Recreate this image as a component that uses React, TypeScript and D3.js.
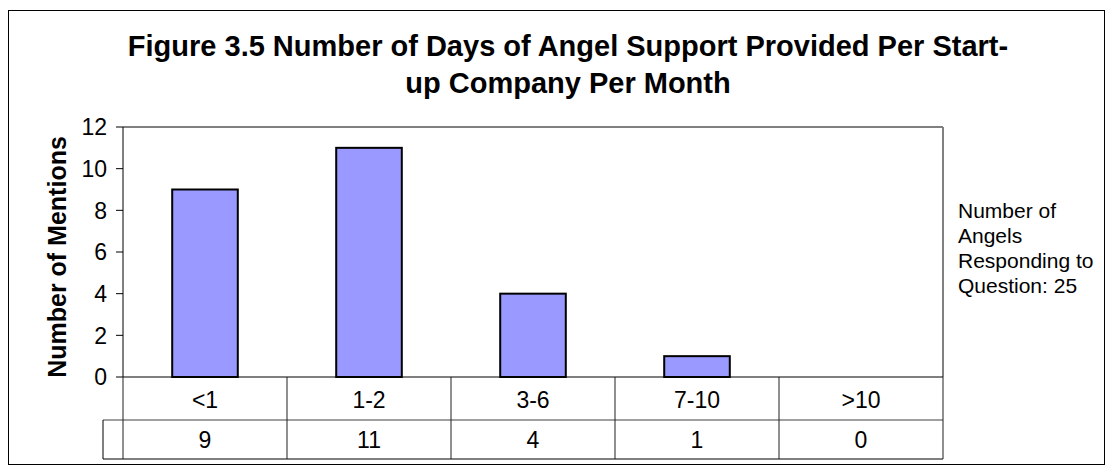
import React from "react";
import * as d3 from "d3";

const categories = ["<1", "1-2", "3-6", "7-10", ">10"];
const values = [9, 11, 4, 1, 0];
const yTicks = [0, 2, 4, 6, 8, 10, 12];
const titleLines = ["Figure 3.5 Number of Days of Angel Support Provided Per Start-", "up Company Per Month"];
const noteLines = ["Number of", "Angels", "Responding to", "Question: 25"];
const yLabel = "Number of Mentions";

export default function App() {
  const W = 1114, H = 475;
  const left = 123, right = 943, top = 127, bottom = 377;
  const x = d3.scaleBand<string>().domain(categories).range([left, right]).paddingInner(0).paddingOuter(0);
  const y = d3.scaleLinear().domain([0, 12]).range([bottom, top]);
  const bw = x.bandwidth() * 0.4;
  const row1 = 420, row2 = 459, keyLeft = 103;
  const font = "'Liberation Sans', Arial, sans-serif";
  return (
    <svg width={W} height={H} style={{ position: "absolute", left: 0, top: 0, background: "#fff" }} fontFamily={font}>
      <rect x={8.5} y={10.5} width={1096} height={454} fill="#fff" stroke="#000" strokeWidth={1} />
      {titleLines.map((t, i) => (
        <text key={i} x={568} y={56 + i * 37} textAnchor="middle" fontSize={29} fontWeight="bold">{t}</text>
      ))}
      <text transform={`translate(66,257) rotate(-90)`} textAnchor="middle" fontSize={25} fontWeight="bold">{yLabel}</text>
      {/* plot frame */}
      <line x1={left} x2={right} y1={top} y2={top} stroke="#808080" strokeWidth={2} />
      <line x1={right} x2={right} y1={top} y2={bottom} stroke="#808080" strokeWidth={2} />
      {/* bars */}
      {categories.map((c, i) => (
        values[i] > 0 ? (
          <rect key={c} x={(x(c) as number) + (x.bandwidth() - bw) / 2} y={y(values[i])} width={bw} height={y(0) - y(values[i])}
            fill="#9999FF" stroke="#000" strokeWidth={2} />
        ) : null
      ))}
      {/* y axis */}
      <line x1={left} x2={left} y1={top} y2={bottom} stroke="#000" strokeWidth={1} />
      {yTicks.map((t) => (
        <g key={t}>
          <line x1={left - 7} x2={left} y1={y(t)} y2={y(t)} stroke="#000" />
          <text x={107} y={y(t)} dy="0.36em" textAnchor="end" fontSize={23}>{t}</text>
        </g>
      ))}
      {/* data table */}
      <line x1={left} x2={right} y1={bottom} y2={bottom} stroke="#000" strokeWidth={1} />
      <line x1={keyLeft} x2={right} y1={row1} y2={row1} stroke="#404040" strokeWidth={1} />
      <line x1={keyLeft} x2={right} y1={row2} y2={row2} stroke="#000" strokeWidth={1} />
      <line x1={keyLeft} x2={keyLeft} y1={row1} y2={row2} stroke="#000" strokeWidth={1} />
      {[...categories.map((c) => x(c) as number), right].map((bx, i) => (
        <line key={i} x1={bx} x2={bx} y1={bottom} y2={row2} stroke="#202020" strokeWidth={1} />
      ))}
      {categories.map((c, i) => (
        <g key={c}>
          <text x={(x(c) as number) + x.bandwidth() / 2} y={(bottom + row1) / 2 + 1} dy="0.36em" textAnchor="middle" fontSize={23}>{c}</text>
          <text x={(x(c) as number) + x.bandwidth() / 2} y={(row1 + row2) / 2} dy="0.36em" textAnchor="middle" fontSize={23}>{values[i]}</text>
        </g>
      ))}
      {noteLines.map((t, i) => (
        <text key={i} x={958} y={218 + i * 25} fontSize={21}>{t}</text>
      ))}
    </svg>
  );
}
